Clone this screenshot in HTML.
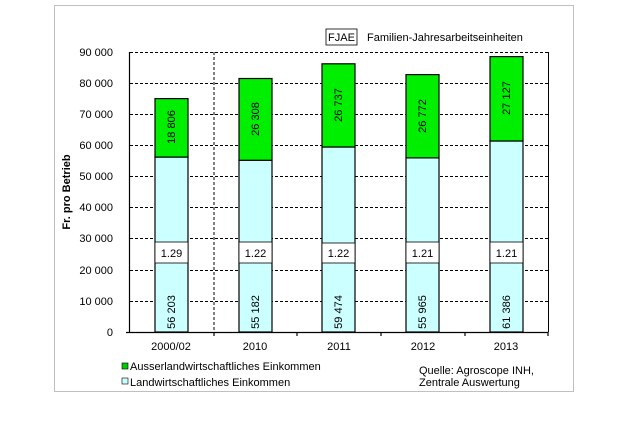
<!DOCTYPE html>
<html><head><meta charset="utf-8"><style>
body{margin:0;background:#fff;}
svg text{font-family:"Liberation Sans",Arial,sans-serif;font-size:11px;fill:#000;}
</style></head><body>
<svg width="620" height="420" xmlns="http://www.w3.org/2000/svg">
<rect x="54.5" y="5.5" width="519" height="386" fill="#fff" stroke="#c0c0c0" stroke-width="1"/>
<!-- gridlines -->
<g stroke="#000" stroke-width="1" stroke-dasharray="3,2">
<line x1="130" x2="548" y1="52.5" y2="52.5"/>
<line x1="130" x2="548" y1="83.5" y2="83.5"/>
<line x1="130" x2="548" y1="114.5" y2="114.5"/>
<line x1="130" x2="548" y1="145.5" y2="145.5"/>
<line x1="130" x2="548" y1="176.5" y2="176.5"/>
<line x1="130" x2="548" y1="207.5" y2="207.5"/>
<line x1="130" x2="548" y1="238.5" y2="238.5"/>
<line x1="130" x2="548" y1="270.5" y2="270.5"/>
<line x1="130" x2="548" y1="301.5" y2="301.5"/>
<line x1="214" x2="214" y1="52" y2="332"/>
</g>
<line x1="548.5" x2="548.5" y1="52" y2="332" stroke="#000"/>
<g stroke="#000" stroke-width="1.2">
<!-- bars: bottom 332, scale 0.003111 -->
<rect x="155" y="157" width="33" height="175" fill="#ccffff"/>
<rect x="155" y="98.6" width="33" height="58.5" fill="#00ee00"/>
<rect x="239" y="160.3" width="33" height="171.7" fill="#ccffff"/>
<rect x="239" y="78.5" width="33" height="81.8" fill="#00ee00"/>
<rect x="322" y="147" width="33" height="185" fill="#ccffff"/>
<rect x="322" y="63.8" width="33" height="83.2" fill="#00ee00"/>
<rect x="406" y="157.9" width="33" height="174.1" fill="#ccffff"/>
<rect x="406" y="74.6" width="33" height="83.3" fill="#00ee00"/>
<rect x="490" y="141" width="33" height="191" fill="#ccffff"/>
<rect x="490" y="56.6" width="33" height="84.4" fill="#00ee00"/>
</g>
<!-- FJAE boxes -->
<g fill="#fff" stroke="#000" stroke-width="0.8">
<rect x="155" y="242" width="33" height="21"/>
<rect x="239" y="242" width="33" height="21"/>
<rect x="322" y="243" width="33" height="20"/>
<rect x="406" y="242" width="33" height="21"/>
<rect x="490" y="242" width="33" height="21"/>
</g>
<g text-anchor="middle">
<text x="171.5" y="257">1.29</text><text x="255.5" y="257">1.22</text><text x="338.5" y="257">1.22</text><text x="422.5" y="257">1.21</text><text x="506.5" y="257">1.21</text>
</g>
<!-- rotated values -->
<g text-anchor="middle">
<text transform="translate(175,312) rotate(-90)">56 203</text>
<text transform="translate(259,312) rotate(-90)">55 182</text>
<text transform="translate(342,312) rotate(-90)">59 474</text>
<text transform="translate(426,312) rotate(-90)">55 965</text>
<text transform="translate(510,312) rotate(-90)">61 386</text>
<text transform="translate(175,127) rotate(-90)">18 806</text>
<text transform="translate(259,119) rotate(-90)">26 308</text>
<text transform="translate(342,105) rotate(-90)">26 737</text>
<text transform="translate(426,116) rotate(-90)">26 772</text>
<text transform="translate(510,98) rotate(-90)">27 127</text>
</g>
<!-- axes -->
<g stroke="#000" stroke-width="1.2">
<line x1="129.5" x2="129.5" y1="52" y2="333"/>
<line x1="126" x2="548" y1="332.5" y2="332.5"/>
<line x1="214" x2="214" y1="332" y2="336"/>
<line x1="297" x2="297" y1="332" y2="336"/>
<line x1="381" x2="381" y1="332" y2="336"/>
<line x1="465" x2="465" y1="332" y2="336"/>
<line x1="548" x2="548" y1="332" y2="336"/>
</g>
<g text-anchor="end">
<text x="113" y="56">90 000</text><text x="113" y="87">80 000</text><text x="113" y="118">70 000</text><text x="113" y="149">60 000</text><text x="113" y="180">50 000</text><text x="113" y="211">40 000</text><text x="113" y="242">30 000</text><text x="113" y="274">20 000</text><text x="113" y="305">10 000</text><text x="113" y="336">0</text>
</g>
<g text-anchor="middle">
<text x="171" y="350">2000/02</text><text x="255" y="350">2010</text><text x="339" y="350">2011</text><text x="423" y="350">2012</text><text x="506" y="350">2013</text>
</g>
<text transform="translate(70,192) rotate(-90)" text-anchor="middle" font-weight="bold">Fr. pro Betrieb</text>
<rect x="326" y="29" width="31" height="16" fill="#fff" stroke="#000" stroke-width="0.8"/>
<text x="341.5" y="41" text-anchor="middle">FJAE</text>
<text x="367" y="41">Familien-Jahresarbeitseinheiten</text>
<rect x="122" y="363" width="6" height="6" fill="#00cc00" stroke="#000" stroke-width="0.6"/>
<text x="130" y="370">Ausserlandwirtschaftliches Einkommen</text>
<rect x="122" y="378" width="6" height="6" fill="#ccffff" stroke="#000" stroke-width="0.6"/>
<text x="130" y="386">Landwirtschaftliches Einkommen</text>
<text x="419" y="374" font-size="10.5">Quelle: Agroscope INH,</text>
<text x="419" y="386" font-size="10.5">Zentrale Auswertung</text>
</svg>
</body></html>
